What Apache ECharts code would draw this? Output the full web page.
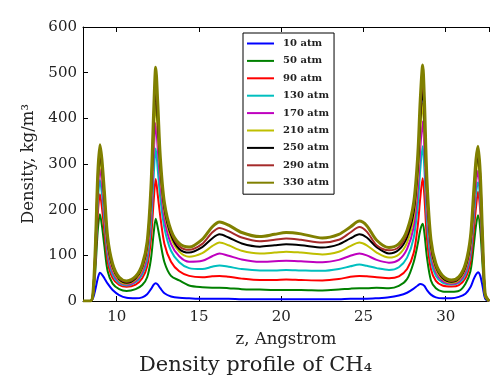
<!DOCTYPE html>
<html>
<head>
<meta charset="utf-8">
<script src="https://cdn.jsdelivr.net/npm/echarts@6/dist/echarts.min.js"></script>
<style>
  html, body { margin: 0; padding: 0; background: #fff; }
  #main { width: 490px; height: 378px; }
</style>
</head>
<body>
<div id="main"></div>
<script>
// z positions (Angstrom), shared by all curves
var z = [7.95, 8.40, 8.55, 8.70, 8.85, 8.98, 9.10, 9.25, 9.45, 9.75, 10.15, 10.60,
  11.15, 11.55, 11.85, 12.08, 12.25, 12.37, 12.50, 12.65, 12.90, 13.30, 13.80, 14.40,
  15.20, 15.80, 16.25, 16.80, 17.60, 18.70, 19.60, 20.30, 21.20, 22.50, 23.50, 24.20, 24.75, 25.20,
  25.80, 26.55, 27.15, 27.65, 28.05, 28.30, 28.45, 28.60, 28.70, 28.86, 29.10, 29.40, 29.80,
  30.35, 30.80, 31.20, 31.50, 31.70, 31.84, 31.96, 32.10, 32.25, 32.40, 32.63];

// density, kg/m3
var d10 = [0, 0, 5, 25, 50, 62, 58, 50, 38, 24, 13, 7,
  6, 8, 15, 26, 36, 39, 36, 28, 17, 10, 7, 6,
  5, 5, 5, 5, 4, 4, 4, 4, 4, 4, 4, 5, 5, 5,
  6, 8, 12, 18, 27, 34, 37, 36, 33, 24, 14, 8, 6,
  6, 9, 16, 30, 48, 58, 63, 55, 30, 5, 0];
var d50 = [0, 0, 8, 66, 155, 190, 165, 120, 65, 38, 26, 22,
  26, 35, 52, 92, 150, 180, 160, 130, 85, 55, 45, 34,
  30, 29, 29, 28, 26, 25, 24, 24, 24, 23, 25, 27, 28, 28,
  29, 28, 33, 48, 85, 125, 155, 169, 150, 95, 45, 28, 21,
  20, 22, 38, 65, 120, 165, 188, 155, 72, 8, 0];
var d90 = [0, 0, 10, 82, 190, 234, 205, 152, 86, 50, 35, 31,
  36, 50, 76, 135, 221, 267, 230, 185, 125, 86, 65, 55,
  52, 54, 55, 53, 49, 46, 46, 47, 46, 45, 48, 53, 55, 54,
  52, 50, 54, 70, 105, 165, 225, 269, 230, 136, 70, 44, 34,
  32, 35, 50, 86, 152, 205, 239, 196, 90, 10, 0];
var d130 = [0, 0, 11, 92, 216, 265, 235, 178, 100, 58, 39, 34,
  41, 58, 90, 165, 276, 334, 285, 225, 160, 110, 85, 72,
  70, 75, 78, 75, 70, 67, 67, 68, 67, 66, 70, 76, 80, 77,
  72, 68, 74, 95, 138, 210, 287, 339, 290, 172, 89, 55, 40,
  36, 40, 58, 100, 178, 235, 260, 214, 99, 11, 0];
var d170 = [0, 0, 12, 100, 236, 290, 258, 196, 110, 64, 42, 36,
  44, 64, 102, 192, 322, 390, 330, 260, 180, 125, 98, 86,
  88, 98, 104, 99, 91, 86, 87, 88, 87, 85, 90, 99, 104, 100,
  90, 84, 90, 114, 162, 245, 332, 393, 336, 200, 103, 63, 44,
  38, 43, 64, 110, 196, 258, 285, 234, 108, 12, 0];
var d210 = [0, 0, 13, 108, 252, 310, 278, 212, 120, 70, 45, 38,
  47, 70, 112, 212, 357, 433, 365, 280, 195, 138, 108, 97,
  105, 120, 128, 122, 110, 104, 106, 108, 106, 102, 108, 120, 128, 122,
  106, 95, 102, 128, 182, 272, 368, 433, 372, 222, 114, 70, 48,
  40, 46, 70, 120, 212, 278, 308, 253, 116, 13, 0];
var d250 = [0, 0, 14, 112, 264, 325, 292, 224, 128, 75, 48, 40,
  50, 74, 120, 228, 384, 466, 390, 295, 203, 145, 114, 106,
  118, 137, 146, 139, 126, 119, 122, 124, 122, 117, 124, 137, 146, 139,
  118, 104, 112, 140, 196, 292, 396, 466, 400, 238, 122, 75, 51,
  42, 49, 75, 128, 224, 292, 322, 265, 122, 14, 0];
var d290 = [0, 0, 14, 116, 273, 335, 302, 232, 134, 78, 50, 42,
  52, 77, 125, 240, 403, 490, 412, 305, 209, 150, 120, 112,
  125, 150, 160, 153, 139, 131, 134, 137, 134, 128, 134, 150, 162, 152,
  122, 111, 118, 148, 205, 305, 415, 490, 420, 250, 128, 78, 53,
  44, 51, 78, 134, 232, 302, 332, 274, 126, 14, 0];
var d330 = [0, 0, 15, 120, 280, 342, 310, 240, 140, 82, 52, 44,
  54, 80, 130, 250, 420, 512, 430, 315, 215, 155, 126, 118,
  135, 162, 173, 166, 150, 141, 146, 150, 147, 138, 146, 162, 175, 165,
  133, 117, 125, 155, 215, 320, 440, 517, 445, 265, 135, 82, 56,
  46, 53, 82, 140, 240, 310, 339, 280, 130, 15, 0];

var names = ['10 atm', '50 atm', '90 atm', '130 atm', '170 atm', '210 atm', '250 atm', '290 atm', '330 atm'];
var colors = ['#0000ff', '#008000', '#ff0000', '#00bfbf', '#bf00bf', '#bfbf00', '#000000', '#a52a2a', '#808000'];
var curves = [d10, d50, d90, d130, d170, d210, d250, d290, d330];

var font = 'DejaVu Serif';

function pairs(ys) {
  var out = [];
  for (var i = 0; i < z.length; i++) {
    out.push([z[i], ys[i]]);
  }
  return out;
}

var series = [];
for (var i = 0; i < curves.length; i++) {
  series.push({
    name: names[i],
    type: 'line',
    data: pairs(curves[i]),
    symbol: 'none',
    smooth: 0.3,
    lineStyle: { color: colors[i], width: i == 8 ? 3 : 2 },
    itemStyle: { color: colors[i] }
  });
}

var myChart = echarts.init(document.getElementById('main'));
var option = {
  animation: false,
  title: {
    text: 'Density profile of CH₄',
    left: 134,
    top: 350,
    textStyle: { fontFamily: font, fontSize: 21, fontWeight: 'normal', color: '#222' }
  },
  legend: {
    data: names,
    orient: 'vertical',
    left: 243,
    top: 33,
    padding: [5, 5, 6, 4],
    icon: 'rect',
    itemWidth: 27,
    itemHeight: 2,
    itemGap: 6.4,
    borderColor: '#000',
    borderWidth: 1,
    backgroundColor: '#fff',
    textStyle: { fontFamily: font, fontSize: 10, fontWeight: 'bold', lineHeight: 11, color: '#222', padding: [0, 0, 0, 4] }
  },
  grid: { left: 83, top: 27, right: 1, bottom: 77 },
  xAxis: [{
      type: 'value',
      min: 7.95,
      max: 32.63,
      name: 'z, Angstrom',
      nameLocation: 'middle',
      nameGap: 30,
      nameTextStyle: { fontFamily: font, fontSize: 16.5, color: '#222' },
      axisLine: { lineStyle: { color: '#000', width: 1 } },
      axisTick: { inside: true, length: 5, lineStyle: { color: '#000' } },
      axisLabel: {
        showMinLabel: false,
        showMaxLabel: false,
        margin: 9,
        fontFamily: font,
        fontSize: 15,
        color: '#222',
        formatter: function (v) { return v % 5 === 0 ? v : ''; }
      },
      splitLine: { show: false }
    },
    {
      // top spine with ticks only
      type: 'value',
      position: 'top',
      min: 7.95,
      max: 32.63,
      axisLine: { lineStyle: { color: '#000', width: 1 } },
      axisTick: { inside: true, length: 5, lineStyle: { color: '#000' } },
      axisLabel: { show: false },
      splitLine: { show: false }
    }
  ],
  yAxis: {
    type: 'value',
    min: 0,
    max: 600,
    interval: 100,
    name: 'Density, kg/m³',
    nameLocation: 'middle',
    nameGap: 44,
    nameTextStyle: { fontFamily: font, fontSize: 16.5, color: '#222' },
    axisLine: { show: true, lineStyle: { color: '#000', width: 1 } },
    axisTick: { show: true, inside: true, length: 5, lineStyle: { color: '#000' } },
    axisLabel: { margin: 6, fontFamily: font, fontSize: 15, color: '#222' },
    splitLine: { show: false }
  },
  series: series
};

option && myChart.setOption(option);
</script>
</body>
</html>
